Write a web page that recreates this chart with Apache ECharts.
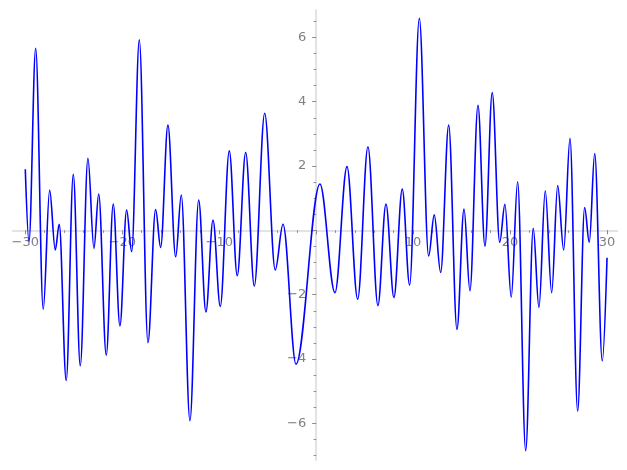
<!DOCTYPE html>
<html><head><meta charset="utf-8">
<script src="https://cdn.jsdelivr.net/npm/echarts@6/dist/echarts.min.js"></script>
<style>html,body{margin:0;padding:0;background:#fff}#c{width:627px;height:470px}</style>
</head><body><div id="c"></div>
<script>
// Curve: local extrema (plus end points)
const xs = [-30.0, -29.62, -28.93, -28.15, -27.49, -26.91, -26.50, -25.78, -25.05, -24.33,
  -23.54, -22.92, -22.43, -21.65, -20.93, -20.24, -19.55, -19.03, -18.24, -17.35,
  -16.56, -16.04, -15.29, -14.49, -13.91, -13.02, -12.12, -11.37, -10.64, -9.89,
  -8.96, -8.14, -7.27, -6.38, -5.31, -4.22, -3.42, -2.08, 0.39, 1.94,
  3.18, 4.28, 5.34, 6.37, 7.20, 8.02, 8.88, 9.64, 10.64, 11.60,
  12.18, 12.84, 13.67, 14.52, 15.25, 15.86, 16.69, 17.41, 18.16, 18.93,
  19.47, 20.12, 20.78, 21.61, 22.39, 22.98, 23.63, 24.29, 24.91, 25.53,
  26.18, 26.97, 27.69, 28.17, 28.73, 29.51, 30.0];
const ys = [1.90, -0.35, 5.66, -2.45, 1.25, -0.61, 0.19, -4.67, 1.74, -4.21,
  2.24, -0.56, 1.13, -3.88, 0.82, -2.97, 0.63, -0.66, 5.92, -3.49,
  0.65, -0.53, 3.27, -0.82, 1.10, -5.92, 0.94, -2.54, 0.32, -2.37,
  2.47, -1.41, 2.42, -1.73, 3.64, -1.23, 0.19, -4.16, 1.44, -1.94,
  1.98, -2.14, 2.60, -2.34, 0.82, -2.09, 1.28, -1.70, 6.59, -0.80,
  0.48, -1.31, 3.27, -3.08, 0.66, -1.88, 3.89, -0.49, 4.28, -0.37,
  0.81, -2.08, 1.51, -6.85, 0.06, -2.40, 1.23, -1.94, 1.39, -0.61,
  2.86, -5.62, 0.71, -0.37, 2.39, -4.06, -0.85];

const xMajorTicks = [-30, -20, -10, 0, 10, 20, 30];
const xTickLabels = [-30, -20, -10, 10, 20, 30];
const xMinorTicks = [-30, -28, -26, -24, -22, -20, -18, -16, -14, -12, -10, -8, -6, -4, -2, 0,
  2, 4, 6, 8, 10, 12, 14, 16, 18, 20, 22, 24, 26, 28, 30];
const yMajorTicks = [-6, -4, -2, 0, 2, 4, 6];
const yTickLabels = [-6, -4, -2, 2, 4, 6];
const yMinorTicks = [-7, -6.5, -6, -5.5, -5, -4.5, -4, -3.5, -3, -2.5, -2, -1.5, -1, -0.5, 0,
  0.5, 1, 1.5, 2, 2.5, 3, 3.5, 4, 4.5, 5, 5.5, 6, 6.5];

const X_MIN = -31.30, X_MAX = 31.06, Y_MIN = -7.14, Y_MAX = 6.85;
const W = 627, H = 470, G_LEFT = 12.7, G_RIGHT = 9.7, G_TOP = 10, G_BOTTOM = 10;
const gw = W - G_LEFT - G_RIGHT, gh = H - G_TOP - G_BOTTOM;
// move axes from the grid edges onto the zero lines
const xAxisOffset = -(gh * (0 - Y_MIN) / (Y_MAX - Y_MIN));
const yAxisOffset = -(gw * (0 - X_MIN) / (X_MAX - X_MIN));

const AX_COLOR = '#e3e3e3', TICK_COLOR = '#8a8a8a', LABEL_COLOR = '#808080';
const fmt = v => (v < 0 ? '\u2212' + Math.abs(v) : String(v));
const font = { fontFamily: 'DejaVu Sans', fontSize: 13, color: LABEL_COLOR };

const chart = echarts.init(document.getElementById('c'), null, { renderer: 'canvas' });
chart.setOption({
  animation: false,
  backgroundColor: '#ffffff',
  grid: { left: G_LEFT, right: G_RIGHT, top: G_TOP, bottom: G_BOTTOM, containLabel: false, outerBoundsMode: 'none' },
  xAxis: [
    { type: 'value', min: X_MIN, max: X_MAX, position: 'bottom', offset: xAxisOffset,
      axisLine: { onZero: false, lineStyle: { color: AX_COLOR, width: 2 } },
      axisTick: { show: true, customValues: xMajorTicks, length: 4, lineStyle: { color: TICK_COLOR, width: 1 } },
      axisLabel: Object.assign({ customValues: xTickLabels, formatter: fmt, margin: 6 }, font),
      splitLine: { show: false } },
    { type: 'value', min: X_MIN, max: X_MAX, position: 'bottom', offset: xAxisOffset,
      axisLine: { show: false, onZero: false },
      axisTick: { show: true, customValues: xMinorTicks, length: 2.5, lineStyle: { color: TICK_COLOR, width: 1 } },
      axisLabel: { show: false }, splitLine: { show: false } }
  ],
  yAxis: [
    { type: 'value', min: Y_MIN, max: Y_MAX, position: 'left', offset: yAxisOffset,
      axisLine: { onZero: false, lineStyle: { color: AX_COLOR, width: 2 } },
      axisTick: { show: true, customValues: yMajorTicks, length: 4, lineStyle: { color: TICK_COLOR, width: 1 } },
      axisLabel: Object.assign({ customValues: yTickLabels, formatter: fmt, margin: 10 }, font),
      splitLine: { show: false } },
    { type: 'value', min: Y_MIN, max: Y_MAX, position: 'left', offset: yAxisOffset,
      axisLine: { show: false, onZero: false },
      axisTick: { show: true, customValues: yMinorTicks, length: 2.5, lineStyle: { color: TICK_COLOR, width: 1 } },
      axisLabel: { show: false }, splitLine: { show: false } }
  ],
  series: [{
    type: 'line',
    xAxisIndex: 0, yAxisIndex: 0,
    data: xs.map((x, i) => [x, ys[i]]),
    showSymbol: false,
    smooth: 0.35,
    smoothMonotone: 'x',
    lineStyle: { color: '#0000ff', width: 1.6 },
    z: 5
  }]
});
</script>
</body></html>
